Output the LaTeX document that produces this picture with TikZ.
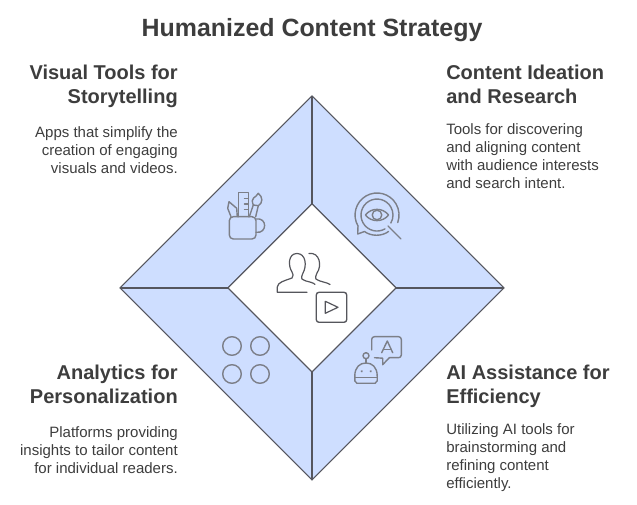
\documentclass[tikz,border=0pt]{standalone}
\usepackage{fontspec}
\setmainfont{Liberation Sans}
\usetikzlibrary{positioning, calc}
\definecolor{quad}{HTML}{CEDEFF}
\definecolor{edge}{HTML}{55565E}
\definecolor{ink}{HTML}{3D3D3D}
\definecolor{icon}{HTML}{7C7F88}
\definecolor{iconb}{HTML}{55565C}

\begin{document}
\begin{tikzpicture}[
    x=0.75pt, y=-0.75pt,
    title/.style={font=\fontsize{18.7}{22}\selectfont\bfseries, text=ink, inner sep=0pt},
    head/.style={font=\fontsize{15}{18}\selectfont\bfseries, text=ink, inner sep=0pt},
    body/.style={font=\fontsize{11.25}{13.6}\selectfont, text=ink, inner sep=0pt},
    quadrant/.style={fill=quad, draw=edge, line width=0.8pt, line join=round},
    spoke/.style={draw=edge, line width=1.3pt},
    ico/.style={draw=icon, line width=1.05pt, line join=round, line cap=round},
    icob/.style={draw=iconb, line width=0.9pt, line join=round, line cap=round}
  ]
  \useasboundingbox (0,0) rectangle (637,505);

  % corners
  \coordinate (top) at (312,96);
  \coordinate (rgt) at (504,288);
  \coordinate (bot) at (312,480);
  \coordinate (lft) at (120,288);
  \coordinate (itop) at (312,204);
  \coordinate (irgt) at (396,288);
  \coordinate (ibot) at (312,372);
  \coordinate (ilft) at (228,288);

  % quadrants
  \draw[quadrant] (top) -- (rgt) -- (irgt) -- (itop) -- cycle;
  \draw[quadrant] (rgt) -- (bot) -- (ibot) -- (irgt) -- cycle;
  \draw[quadrant] (bot) -- (lft) -- (ilft) -- (ibot) -- cycle;
  \draw[quadrant] (lft) -- (top) -- (itop) -- (ilft) -- cycle;
  \draw[fill=white, draw=edge, line width=0.8pt, line join=round] (itop) -- (irgt) -- (ibot) -- (ilft) -- cycle;
  \draw[spoke] (top) -- (itop);
  \draw[spoke] (rgt) -- (irgt);
  \draw[spoke] (bot) -- (ibot);
  \draw[spoke] (lft) -- (ilft);

  % texts
  \node[title] (ttl) at (312,30.5) {Humanized Content Strategy};

  \node[head, anchor=north east, align=right] (vishead) at (178,64.5) {Visual Tools for\\Storytelling};
  \node[body, anchor=north east, align=right] (visbody) at (178,126) {Apps that simplify the\\creation of engaging\\visuals and videos.};

  \node[head, anchor=north west, align=left] (idehead) at (446,64.5) {Content Ideation\\and Research};
  \node[body, anchor=north west, align=left] (idebody) at (446,123) {Tools for discovering\\and aligning content\\with audience interests\\and search intent.};

  \node[head, anchor=north east, align=right] (anahead) at (178,364.5) {Analytics for\\Personalization};
  \node[body, anchor=north east, align=right] (anabody) at (178,426) {Platforms providing\\insights to tailor content\\for individual readers.};

  \node[head, anchor=north west, align=left] (aihead) at (446,364.5) {AI Assistance for\\Efficiency};
  \node[body, anchor=north west, align=left] (aibody) at (446,423) {Utilizing AI tools for\\brainstorming and\\refining content\\efficiently.};

  % cup icon
  \draw[ico, rounded corners=3pt] (229.3,216.7) -- (229.3,239) -- (256,239) -- (256,216.7) -- cycle;
  \draw[ico] (256,219) .. controls (267.5,217) and (267.5,234) .. (256,232.3);
  \draw[ico] (238.3,216.7) -- (238.3,192.3) -- (248.3,192.3) -- (248.3,216.7);
  \draw[ico] (248.3,198.5) -- (244.5,198.5) (248.3,204) -- (244.5,204) (248.3,209.5) -- (244.5,209.5);
  \draw[ico] (231,216.7) -- (227.7,208.3) -- (229,201.7) -- (236.7,208.3) -- (237.3,216.7);
  \draw[ico] (249.3,216.7) -- (253.3,205);
  \draw[ico] (255.7,216.7) -- (258.3,205.7);
  \draw[ico] (253.3,205) .. controls (250,197) and (256,198) .. (258.3,193.3) .. controls (263,197) and (263,203) .. (258.3,205.7) -- cycle;

  % eye icon
  \draw[ico] (358,226) arc[start angle=150, end angle=380, radius=22];
  \draw[ico] (358,226) -- (357.7,234) -- (364.5,231.5) .. controls (371,236.5) and (382,236.5) .. (388.5,231.5);
  \draw[ico] (385,228.9) arc[start angle=60, end angle=390, radius=16];
  \draw[ico] (365.5,215) .. controls (371,207.5) and (383,207.5) .. (388.5,215) .. controls (383,222.5) and (371,222.5) .. (365.5,215) -- cycle;
  \draw[ico] (377,215) circle[radius=4.8];
  \draw[ico] (388,226) -- (401,239);

  % people icon
  \draw[icob] (307,292.3) -- (277.3,292.3) -- (277.3,287) .. controls (278,282) and (284,281) .. (292,278) .. controls (294,276) and (293,274) .. (292,272) .. controls (288,266) and (288,253.5) .. (297,253.5) .. controls (306,253.5) and (307,266) .. (303,273) .. controls (300,280) and (302,279) .. (306,281) .. controls (310,282) and (314,283) .. (315,284.5);
  \draw[icob] (309,253.5) .. controls (320,252) and (322,266) .. (317,273) .. controls (314,280) and (316,279) .. (320,281) .. controls (323,282) and (328,283) .. (330,284.5);
  \draw[draw=iconb, line width=1pt, rounded corners=2pt] (316.3,292.3) rectangle (346.7,322.3);
  \draw[icob] (325.3,301.3) -- (325.3,313.3) -- (338,307.3) -- cycle;

  % circles icon
  \foreach \cx/\cy in {232/346, 260/346, 232/374, 260/374}
    \draw[ico] (\cx,\cy) circle[radius=9.3];

  % robot icon
  \draw[ico] (366,355.7) circle[radius=3];
  \draw[ico] (366,358.7) -- (366,363);
  \draw[ico] (354.8,376) .. controls (354.8,367) and (360,363) .. (366,363) .. controls (372,363) and (377.2,367) .. (377.2,376) -- (377.2,381) -- (375,383.3) -- (357,383.3) -- (354.8,381) -- cycle;
  \draw[ico] (354.8,377.3) -- (377.2,377.3);
  \draw[icon, line width=0.6pt] (361,370.6) -- (362.4,372) (362.4,370.6) -- (361,372);
  \draw[icon, line width=0.6pt] (370,370.6) -- (371.4,372) (371.4,370.6) -- (370,372);
  \draw[ico, rounded corners=2pt] (371.7,350) -- (371.7,336.7) -- (401.3,336.7) -- (401.3,357.7) -- (389.3,357.7);
  \draw[ico] (389.3,357.7) -- (382.7,364.7) -- (382.7,358.2) -- (374.5,357.7);
  \draw[ico] (381.7,352.7) -- (387.3,341) -- (392.7,352.7);
  \draw[ico] (383.5,349.3) -- (391,349.3);
\end{tikzpicture}
\end{document}
